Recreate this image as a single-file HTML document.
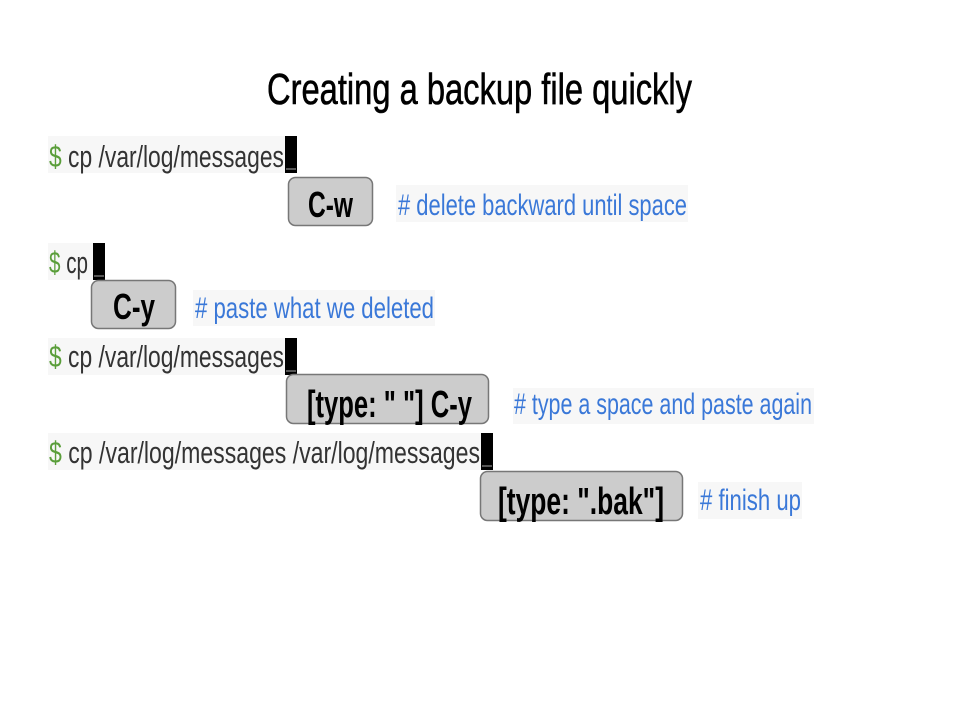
<!DOCTYPE html>
<html><head><meta charset="utf-8"><style>html,body{margin:0;padding:0;background:#fff}svg{display:block}</style></head>
<body>
<svg width="960" height="720" viewBox="0 0 960 720" xmlns="http://www.w3.org/2000/svg" font-family="Liberation Sans, sans-serif">
<text x="267" y="104" font-size="44" fill="#000" stroke="#000" stroke-width="0.6" textLength="425" lengthAdjust="spacingAndGlyphs">Creating a backup file quickly</text>

<g>
<rect x="48" y="136" width="238" height="37" fill="#f7f7f7"/>
<rect x="285" y="136" width="12" height="37" fill="#000"/>
<rect x="286" y="168" width="10" height="2" fill="#555"/>
<text x="49" y="167" font-size="31" fill="#333" textLength="235" lengthAdjust="spacingAndGlyphs"><tspan fill="#5a9e3a">$</tspan> cp /var/log/messages</text>

<rect x="288.5" y="177.5" width="84" height="48" rx="7" fill="#cccccc" stroke="#777" stroke-width="1.5"/>
<text x="308" y="217" font-size="36" font-weight="bold" fill="#000" textLength="45" lengthAdjust="spacingAndGlyphs">C-w</text>
<rect x="396" y="185" width="292" height="37" fill="#f7f7f7"/>
<text x="398" y="215" font-size="30" fill="#3a78d8" textLength="289" lengthAdjust="spacingAndGlyphs"># delete backward until space</text>
</g>

<g>
<rect x="48" y="243" width="47" height="37" fill="#f7f7f7"/>
<rect x="93" y="243" width="12" height="37" fill="#000"/>
<rect x="94" y="275" width="10" height="2" fill="#555"/>
<text x="49" y="273" font-size="31" fill="#333" textLength="39" lengthAdjust="spacingAndGlyphs"><tspan fill="#5a9e3a">$</tspan> cp</text>

<rect x="91.5" y="280.5" width="84" height="48" rx="7" fill="#cccccc" stroke="#777" stroke-width="1.5"/>
<text x="113" y="319" font-size="36" font-weight="bold" fill="#000" textLength="42" lengthAdjust="spacingAndGlyphs">C-y</text>
<rect x="193" y="290" width="242" height="36" fill="#f7f7f7"/>
<text x="195" y="318" font-size="30" fill="#3a78d8" textLength="239" lengthAdjust="spacingAndGlyphs"># paste what we deleted</text>
</g>

<g>
<rect x="48" y="338" width="238" height="37" fill="#f7f7f7"/>
<rect x="285" y="338" width="12" height="37" fill="#000"/>
<rect x="286" y="370" width="10" height="2" fill="#555"/>
<text x="49" y="367" font-size="31" fill="#333" textLength="235" lengthAdjust="spacingAndGlyphs"><tspan fill="#5a9e3a">$</tspan> cp /var/log/messages</text>

<rect x="286.5" y="374.5" width="202" height="49" rx="7" fill="#cccccc" stroke="#777" stroke-width="1.5"/>
<text x="307" y="417" font-size="38" font-weight="bold" fill="#000" textLength="165" lengthAdjust="spacingAndGlyphs">[type: " "] C-y</text>
<rect x="513" y="388" width="301" height="36" fill="#f7f7f7"/>
<text x="514" y="414" font-size="30" fill="#3a78d8" textLength="298" lengthAdjust="spacingAndGlyphs"># type a space and paste again</text>
</g>

<g>
<rect x="48" y="433" width="434" height="37" fill="#f7f7f7"/>
<rect x="481" y="433" width="12" height="37" fill="#000"/>
<rect x="482" y="465" width="10" height="2" fill="#555"/>
<text x="49" y="463" font-size="31" fill="#333" textLength="431" lengthAdjust="spacingAndGlyphs"><tspan fill="#5a9e3a">$</tspan> cp /var/log/messages /var/log/messages</text>

<rect x="480.5" y="471.5" width="202" height="49" rx="7" fill="#cccccc" stroke="#777" stroke-width="1.5"/>
<text x="498" y="514" font-size="38" font-weight="bold" fill="#000" textLength="166" lengthAdjust="spacingAndGlyphs">[type: ".bak"]</text>
<rect x="698" y="482" width="104" height="37" fill="#f7f7f7"/>
<text x="700" y="510" font-size="30" fill="#3a78d8" textLength="101" lengthAdjust="spacingAndGlyphs"># finish up</text>
</g>
</svg>
</body></html>
